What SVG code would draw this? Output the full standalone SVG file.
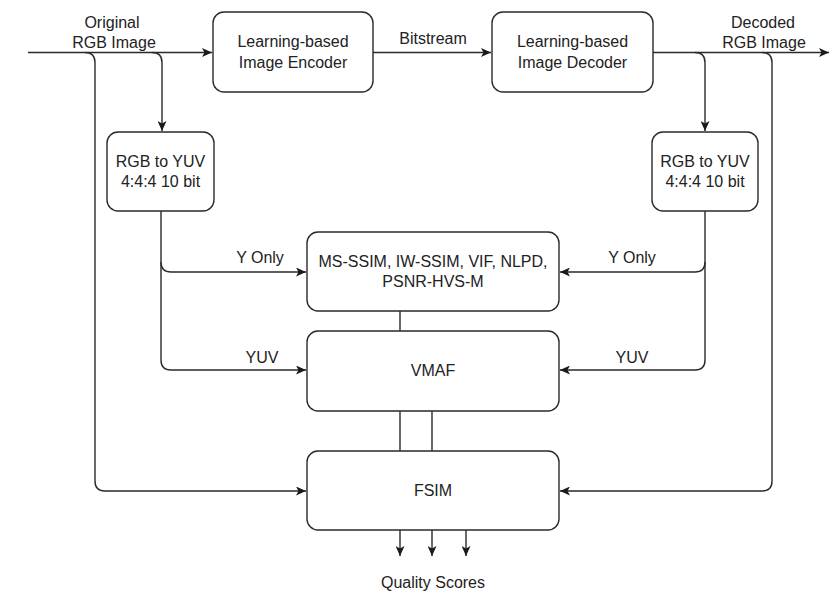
<svg xmlns="http://www.w3.org/2000/svg" width="830" height="593" viewBox="0 0 830 593">
  <defs>
    <marker id="arrow" markerUnits="userSpaceOnUse" markerWidth="11" markerHeight="9" refX="10" refY="4.5" orient="auto">
      <path d="M0,0 L10,4.5 L0,9 L2.5,4.5 Z" fill="#1a1a1a"/>
    </marker>
    <style>
      .box { fill: #ffffff; stroke: #2a2a2a; stroke-width: 1.4; }
      .edge { fill: none; stroke: #2a2a2a; stroke-width: 1.4; }
      .txt { font-family: "Liberation Sans", Arial, Helvetica, sans-serif; font-size: 16px; fill: #222222; text-anchor: middle; }
    </style>
  </defs>
  <rect width="830" height="593" fill="#ffffff"/>

  <!-- connectors -->
  <g id="connectors">
    <path class="edge" d="M28 52.5 H212" marker-end="url(#arrow)"/>
    <path class="edge" d="M85 52.5 Q95 52.5 95 62.5 V481 Q95 491 105 491 H306" marker-end="url(#arrow)"/>
    <path class="edge" d="M152 52.5 Q162 52.5 162 62.5 V131" marker-end="url(#arrow)"/>
    <path class="edge" d="M373 52.5 H491" marker-end="url(#arrow)"/>
    <path class="edge" d="M653 52.5 H829" marker-end="url(#arrow)"/>
    <path class="edge" d="M695 52.5 Q705 52.5 705 62.5 V131" marker-end="url(#arrow)"/>
    <path class="edge" d="M762 52.5 Q772 52.5 772 62.5 V481 Q772 491 762 491 H560" marker-end="url(#arrow)"/>
    <path class="edge" d="M161 211 V360 Q161 370 171 370 H306" marker-end="url(#arrow)"/>
    <path class="edge" d="M161 262 Q161 272 171 272 H306" marker-end="url(#arrow)"/>
    <path class="edge" d="M705 211 V360 Q705 370 695 370 H560" marker-end="url(#arrow)"/>
    <path class="edge" d="M705 262 Q705 272 695 272 H560" marker-end="url(#arrow)"/>
    <path class="edge" d="M400 311 V331"/>
    <path class="edge" d="M400 411 V451"/>
    <path class="edge" d="M432 411 V451"/>
    <path class="edge" d="M400 530 V556" marker-end="url(#arrow)"/>
    <path class="edge" d="M432 530 V556" marker-end="url(#arrow)"/>
    <path class="edge" d="M466 530 V556" marker-end="url(#arrow)"/>
    <text class="txt" x="112" y="28">Original</text>
    <text class="txt" x="114" y="48">RGB Image</text>
    <text class="txt" x="433" y="44">Bitstream</text>
    <text class="txt" x="763" y="28">Decoded</text>
    <text class="txt" x="764" y="48">RGB Image</text>
    <text class="txt" x="260" y="263">Y Only</text>
    <text class="txt" x="632" y="263">Y Only</text>
    <text class="txt" x="262" y="363">YUV</text>
    <text class="txt" x="632" y="363">YUV</text>
    <text class="txt" x="433" y="588">Quality Scores</text>
  </g>

  <!-- nodes -->
  <g id="encoder">
    <rect class="box" x="213" y="12" width="160" height="80" rx="11"/>
    <text class="txt" x="293" y="47">Learning-based</text>
    <text class="txt" x="293" y="68">Image Encoder</text>
  </g>
  <g id="decoder">
    <rect class="box" x="492" y="12" width="161" height="80" rx="11"/>
    <text class="txt" x="572.5" y="47">Learning-based</text>
    <text class="txt" x="572.5" y="68">Image Decoder</text>
  </g>
  <g id="yuv-left">
    <rect class="box" x="107" y="132" width="107" height="79" rx="11"/>
    <text class="txt" x="160.5" y="167">RGB to YUV</text>
    <text class="txt" x="160.5" y="187">4:4:4 10 bit</text>
  </g>
  <g id="yuv-right">
    <rect class="box" x="652" y="132" width="106" height="79" rx="11"/>
    <text class="txt" x="705" y="167">RGB to YUV</text>
    <text class="txt" x="705" y="187">4:4:4 10 bit</text>
  </g>
  <g id="metrics">
    <rect class="box" x="307" y="232" width="252" height="79" rx="11"/>
    <text class="txt" x="433" y="267">MS-SSIM, IW-SSIM, VIF, NLPD,</text>
    <text class="txt" x="433" y="287">PSNR-HVS-M</text>
  </g>
  <g id="vmaf">
    <rect class="box" x="307" y="331" width="252" height="80" rx="11"/>
    <text class="txt" x="433" y="376">VMAF</text>
  </g>
  <g id="fsim">
    <rect class="box" x="307" y="451" width="252" height="79" rx="11"/>
    <text class="txt" x="433" y="496">FSIM</text>
  </g>
</svg>
